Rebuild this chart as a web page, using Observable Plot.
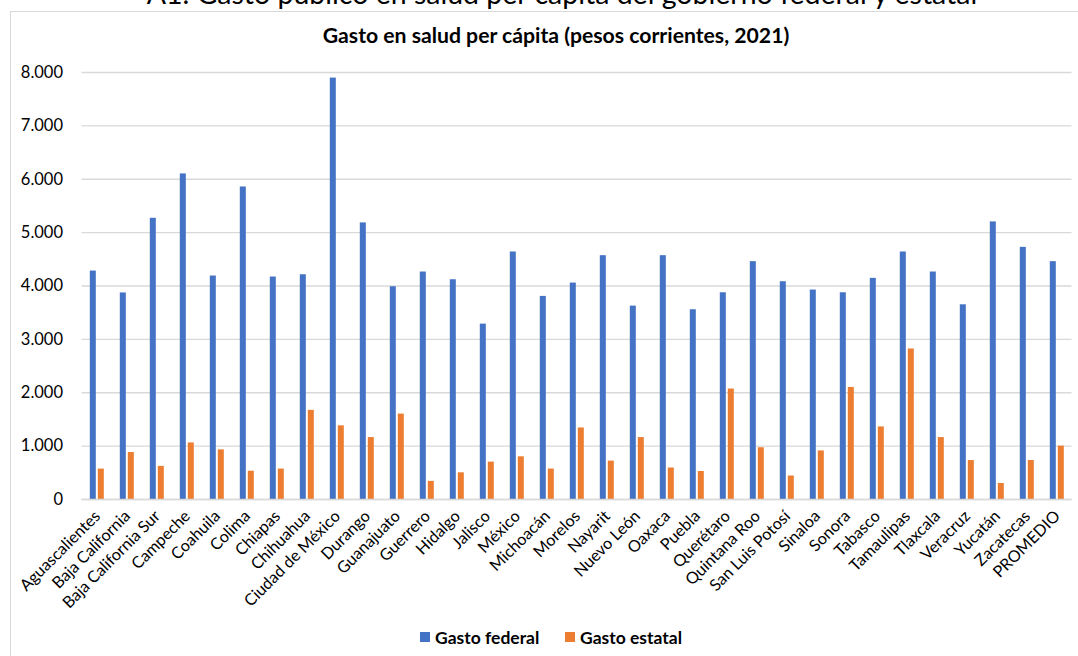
<!DOCTYPE html>
<html><head><meta charset="utf-8">
<script src="https://cdn.jsdelivr.net/npm/d3@7"></script>
<script src="https://cdn.jsdelivr.net/npm/@observablehq/plot@0.6"></script>
<style>
body{margin:0;background:#fff;font-family:Lato,sans-serif;}
#wrap{position:relative;width:1078px;height:656px;overflow:hidden;background:#fff;}
#frame{position:absolute;left:10px;top:11px;width:1100px;height:700px;border:1px solid #d9d9d9;box-sizing:border-box;}
#maintitle{position:absolute;left:0;width:1124px;top:-24px;text-align:center;font-size:28.5px;line-height:1.2;color:#000;white-space:nowrap;}
#subtitle{position:absolute;left:0;width:1112px;top:23px;text-align:center;font-size:21.2px;line-height:1.2;font-weight:bold;color:#000;white-space:nowrap;}
#chart{position:absolute;left:0;top:0;}
.lg{position:absolute;top:627px;font-size:17.5px;line-height:1.2;font-weight:bold;color:#000;white-space:nowrap;}
.sw{position:absolute;top:632px;width:10px;height:10px;}
</style></head>
<body>
<div id="wrap">
<div id="maintitle">A1. Gasto público en salud per cápita del gobierno federal y estatal</div>
<div id="frame"></div>
<div id="subtitle">Gasto en salud per cápita (pesos corrientes, 2021)</div>
<div id="chart"></div>
<div id="legend"></div>
</div>
<script>
const states = ["Aguascalientes","Baja California","Baja California Sur","Campeche","Coahuila","Colima","Chiapas","Chihuahua","Ciudad de México","Durango","Guanajuato","Guerrero","Hidalgo","Jalisco","México","Michoacán","Morelos","Nayarit","Nuevo León","Oaxaca","Puebla","Querétaro","Quintana Roo","San Luis Potosí","Sinaloa","Sonora","Tabasco","Tamaulipas","Tlaxcala","Veracruz","Yucatán","Zacatecas","PROMEDIO"];
const federal = [4280,3870,5268,6100,4187,5855,4168,4211,7895,5182,3986,4262,4117,3286,4637,3805,4055,4568,3623,4568,3555,3873,4456,4080,3924,3873,4143,4637,4262,3648,5201,4724,4456];
const estatal = [570,880,620,1060,930,530,570,1670,1380,1160,1600,340,500,700,800,570,1340,720,1160,590,525,2070,970,440,910,2100,1360,2820,1160,730,300,730,1000];
const yTicks = [0,1000,2000,3000,4000,5000,6000,7000,8000];
const seriesNames = ["Gasto federal","Gasto estatal"];
const seriesColors = ["#4472C4","#ED7D31"];

const fedRows = states.map((s,i)=>({state:s, serie:seriesNames[0], value:federal[i]}));
const estRows = states.map((s,i)=>({state:s, serie:seriesNames[1], value:estatal[i]}));
const fmt = d => d3.format(",")(d).replace(/,/g,".");

const chart = Plot.plot({
  width:1078, height:620,
  marginTop:72, marginBottom:121, marginLeft:81.5, marginRight:6.5,
  style:{fontFamily:"Lato, sans-serif", fontSize:"15px", color:"#000", background:"transparent"},
  x:{domain:states, padding:0, label:null},
  y:{domain:[0,8000], label:null},
  marks:[
    Plot.gridY(yTicks, {stroke:"#d9d9d9", strokeOpacity:1, strokeWidth:1.3}),
    Plot.barY(fedRows, {x:"state", y:"value", fill:seriesColors[0], insetLeft:7.8, insetRight:16.2}),
    Plot.barY(estRows, {x:"state", y:"value", fill:seriesColors[1], insetLeft:15.8, insetRight:8.2}),
    Plot.ruleY([0], {stroke:"#d9d9d9", strokeWidth:1.3}),
    Plot.axisY(yTicks, {tickSize:0, tickPadding:19, tickFormat:fmt, fontSize:16.5, label:null}),
    Plot.axisX({tickSize:0, tickRotate:-45, tickPadding:14, fontSize:16.2, label:null})
  ]
});
document.getElementById("chart").appendChild(chart);

// legend built from series names/colors
const legend = document.getElementById("legend");
const swatchX = [420, 565];
seriesNames.forEach((name,i)=>{
  const sw = document.createElement("div");
  sw.className = "sw"; sw.style.left = swatchX[i]+"px"; sw.style.background = seriesColors[i];
  const lb = document.createElement("div");
  lb.className = "lg"; lb.style.left = (swatchX[i]+15)+"px"; lb.textContent = name;
  legend.appendChild(sw); legend.appendChild(lb);
});
</script>
</body></html>
